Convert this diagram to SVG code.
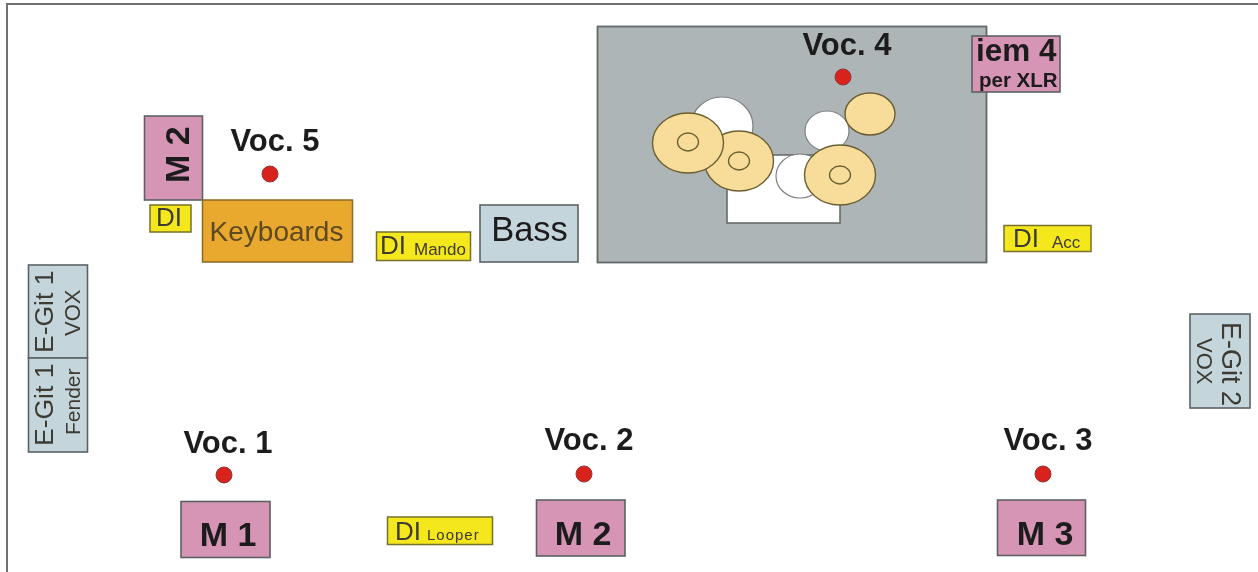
<svg xmlns="http://www.w3.org/2000/svg" width="1258" height="572" viewBox="0 0 1258 572">
<style>
text{font-family:"Liberation Sans",Arial,sans-serif;fill:#1c1a1c}
.b{font-weight:bold}
.box{stroke:#5d6163;stroke-width:1.6}
.pink{fill:#d795b5}
.blue{fill:#c5d5dc}
.yel{fill:#f4e81e;stroke:#77702a;stroke-width:1.5}
.dot{fill:#d9201f;stroke:#8d3a38;stroke-width:1}
.cym{fill:#f8dd9a;stroke:#6b5f33;stroke-width:1.4}
.in{fill:none;stroke:#6b5f33;stroke-width:1.3}
.wh{fill:#fff;stroke:#7d8284;stroke-width:1.2}
.voc{font-size:31px;font-weight:bold;text-anchor:middle}
.lt{fill:#3c3a30}
.di{font-size:26px}
.sm{font-size:17px}
</style>
<defs><filter id="soft" x="0" y="0" width="100%" height="100%"><feGaussianBlur stdDeviation="0.45"/></filter></defs>
<g filter="url(#soft)">
<g id="frame"><path d="M6.500 572V3.500H1258" fill="none" stroke="#6f6f6f" stroke-width="3"/></g>
<g id="connectors"></g>
<g id="drums">
<rect x="597.500" y="26.500" width="389" height="236" fill="#aeb5b7" stroke="#62676a" stroke-width="1.800"/>
<rect x="727" y="155" width="113" height="68" fill="#fff" stroke="#5f6466" stroke-width="1.500"/>
<ellipse class="wh" cx="722" cy="126" rx="31" ry="29"/>
<ellipse class="wh" cx="827" cy="131" rx="22" ry="20"/>
<ellipse class="wh" cx="800" cy="176" rx="24" ry="22"/>
<ellipse class="cym" cx="739" cy="161" rx="34.500" ry="30"/><ellipse class="in" cx="739" cy="161" rx="10.500" ry="9"/>
<ellipse class="cym" cx="688" cy="143" rx="35.500" ry="30"/><ellipse class="in" cx="688" cy="142" rx="10.500" ry="9"/>
<ellipse class="cym" cx="870" cy="114" rx="25" ry="21"/>
<ellipse class="cym" cx="840" cy="175" rx="35.500" ry="30"/><ellipse class="in" cx="840" cy="175" rx="10.500" ry="9"/>
</g>
<g id="voc4"><text class="voc" x="847" y="55">Voc. 4</text><circle class="dot" cx="843" cy="77" r="8"/></g>
<g id="iem4"><rect class="box pink" x="972" y="36" width="88" height="56"/>
<text class="b" x="976" y="61" font-size="31.500">iem 4</text><text class="b" x="979" y="87" font-size="20.500">per XLR</text></g>
<g id="di-acc"><rect class="yel" x="1004" y="225.500" width="87" height="26"/>
<text class="lt di" x="1013" y="247">DI</text><text class="lt sm" x="1052" y="248">Acc</text></g>
<g id="m2-side"><rect class="box pink" x="144.500" y="116" width="58" height="84"/>
<text class="b" transform="translate(189 183) rotate(-90)" font-size="34">M 2</text></g>
<g id="voc5"><text class="voc" x="275" y="151">Voc. 5</text><circle class="dot" cx="270" cy="174" r="8"/></g>
<g id="di-side"><rect class="yel" x="150" y="205" width="41" height="27"/><text class="lt di" x="156" y="226">DI</text></g>
<g id="keyboards"><rect x="202.500" y="200" width="150" height="62" fill="#e9a92f" stroke="#8a6a24" stroke-width="1.500"/>
<text x="276.500" y="241" font-size="28" text-anchor="middle" style="fill:#5d4a22">Keyboards</text></g>
<g id="di-mando"><rect class="yel" x="376.500" y="232" width="94" height="28.500"/>
<text class="lt di" x="380" y="254">DI</text><text class="lt sm" x="414" y="255">Mando</text></g>
<g id="bass"><rect class="box blue" x="480" y="205" width="98" height="57"/><text x="529.500" y="241" font-size="34.500" text-anchor="middle">Bass</text></g>
<g id="egit1-vox"><rect class="box blue" x="28.500" y="265" width="59" height="93"/>
<text class="lt" transform="translate(53 353) rotate(-90)" font-size="26.500">E-Git 1</text><text class="lt" transform="translate(80 336) rotate(-90)" font-size="22">VOX</text></g>
<g id="egit1-fender"><rect class="box blue" x="28.500" y="358" width="59" height="94"/>
<text class="lt" transform="translate(53 446) rotate(-90)" font-size="26.500">E-Git 1</text><text class="lt" transform="translate(80 435) rotate(-90)" font-size="21">Fender</text></g>
<g id="egit2"><rect class="box blue" x="1190" y="314" width="60" height="94"/>
<text class="lt" transform="translate(1222 322) rotate(90)" font-size="27">E-Git 2</text><text class="lt" transform="translate(1197 338) rotate(90)" font-size="22">VOX</text></g>
<g id="voc1"><text class="voc" x="228" y="453">Voc. 1</text><circle class="dot" cx="224" cy="475" r="8"/></g>
<g id="m1"><rect class="box pink" x="181" y="501.500" width="89" height="56"/><text class="b" x="228" y="546" font-size="34" text-anchor="middle">M 1</text></g>
<g id="di-looper"><rect class="yel" x="387.500" y="517" width="105" height="27.500"/>
<text class="lt di" x="395" y="540">DI</text><text class="lt" x="427" y="540" font-size="15" letter-spacing="1">Looper</text></g>
<g id="voc2"><text class="voc" x="589" y="450">Voc. 2</text><circle class="dot" cx="584" cy="474" r="8"/></g>
<g id="m2"><rect class="box pink" x="536.500" y="500" width="88.500" height="56"/><text class="b" x="583" y="545" font-size="34" text-anchor="middle">M 2</text></g>
<g id="voc3"><text class="voc" x="1048" y="450">Voc. 3</text><circle class="dot" cx="1043" cy="474" r="8"/></g>
<g id="m3"><rect class="box pink" x="997.500" y="500" width="88" height="55.500"/><text class="b" x="1045" y="545" font-size="34" text-anchor="middle">M 3</text></g>
</g>
</svg>
